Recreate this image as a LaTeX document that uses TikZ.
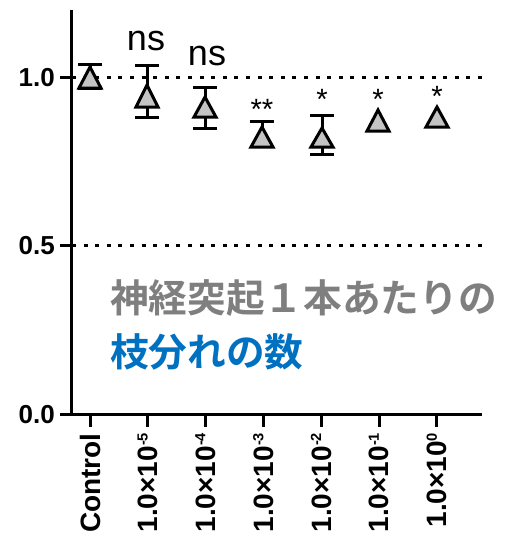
\documentclass[tikz,border=0pt]{standalone}
\usepackage{fontspec}
\setmainfont{Liberation Sans}
\newfontfamily\jpfont{Noto Sans CJK JP Bold}
\definecolor{jgray}{HTML}{7F7F7F}
\definecolor{jblue}{HTML}{0070C0}
\definecolor{trifill}{HTML}{C4C4C4}
\newcommand{\marker}[3]{%
  \fill[trifill] (#1,#2) -- (#1-11,#3) -- (#1+11,#3) -- cycle;
  \draw[axisline, line join=miter] (#1,#2) -- (#1-11,#3) -- (#1+11,#3) -- cycle;}
\newcommand{\ebar}[3]{%
  \draw[axisline] (#1,#2) -- (#1,#3);
  \draw[axisline] (#1-12,#2) -- (#1+12,#2);
  \draw[axisline] (#1-12,#3) -- (#1+12,#3);}
\begin{document}
\begin{tikzpicture}[x=0.75pt,y=-0.75pt,
  axisline/.style={line width=2.25pt, black},
  refline/.style={line width=2.25pt, black, dash pattern=on 3pt off 5.7pt},
  ylab/.style={inner sep=0, anchor=base east, font=\fontsize{19.5}{20}\selectfont\bfseries},
  xlab/.style={inner sep=0, anchor=east, rotate=90, font=\fontsize{21}{22}\selectfont\bfseries},
  nslab/.style={inner sep=0, anchor=base, font=\fontsize{27}{28}\selectfont},
  starlab/.style={inner sep=0, anchor=base, font=\fontsize{22}{22}\selectfont},
  jptext/.style={inner sep=0, anchor=west, font=\fontsize{29}{30}\selectfont\jpfont}]
\useasboundingbox (0,0) rectangle (515,540);
% reference lines
\draw[refline] (72,77) -- (482,77);
\draw[refline] (72,245) -- (482,245);
% axes
\coordinate (ytop) at (71,10);
\coordinate (orig) at (71,414);
\coordinate (xend) at (482,414);
\draw[axisline] (ytop) -- (orig);
\draw[axisline] (60,414) -- (xend);
\foreach \yy in {77,245} \draw[axisline] (60,\yy) -- (71,\yy);
% y labels
\node[ylab] (y10) at (55,86) {1.0};
\node[ylab] (y05) at (55,254) {0.5};
\node[ylab] (y00) at (55,423) {0.0};
% x ticks
\foreach \xx in {90,147.8,205.6,263.4,321.2,379,436.8} \draw[axisline] (\xx,414) -- (\xx,427);
% x labels
\newcommand{\sci}[1]{1.0×10\textsuperscript{\fontsize{11}{12}\selectfont #1}}
\node[xlab] (l0) at (90,433) {Control};
\node[xlab] (l1) at (147.8,432) {\sci{-5}};
\node[xlab] (l2) at (205.6,432) {\sci{-4}};
\node[xlab] (l3) at (263.4,432) {\sci{-3}};
\node[xlab] (l4) at (321.2,432) {\sci{-2}};
\node[xlab] (l5) at (379,432) {\sci{-1}};
\node[xlab] (l6) at (436.8,432) {\sci{0}};
% error bars
\ebar{90}{64}{88}
\ebar{147}{65}{117}
\ebar{205}{87}{128}
\ebar{262}{121}{146}
\ebar{322}{115}{154}
% markers
\marker{90}{67}{88}
\marker{147}{85}{107}
\marker{205}{97}{117}
\marker{262}{127}{147}
\marker{322}{128}{147}
\marker{378}{110}{131}
\marker{437}{107}{127}
% significance
\node[nslab] (ns1) at (146,50) {ns};
\node[nslab] (ns2) at (207,65) {ns};
\node[starlab] (s3) at (262,119) {**};
\node[starlab] (s4) at (322,109) {*};
\node[starlab] (s5) at (378,109) {*};
\node[starlab] (s6) at (437,106) {*};
% Japanese text
\node[jptext, text=jgray] (jp1) at (110,298) {神経突起１本あたりの};
\node[jptext, text=jblue] (jp2) at (110,352) {枝分れの数};
\end{tikzpicture}
\end{document}
